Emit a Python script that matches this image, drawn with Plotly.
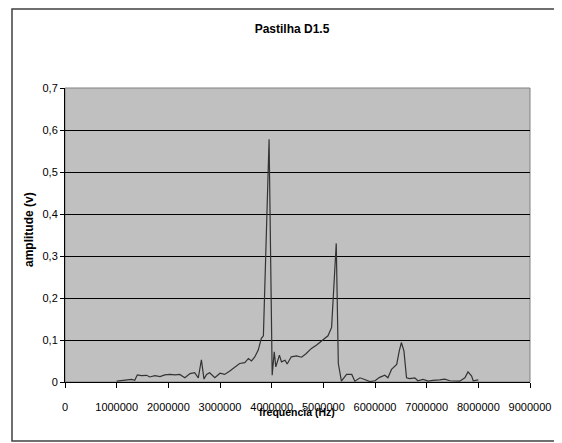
"""Pastilha D1.5 - amplitude spectrum, redrawn with plotly"""

import plotly.graph_objects as go

# frequency (Hz) and amplitude (V)
freq = [1.0e6, 1.1e6, 1.19e6, 1.29e6, 1.35e6, 1.4e6, 1.48e6, 1.58e6, 1.64e6, 1.74e6,
        1.84e6, 1.93e6, 2.03e6, 2.13e6, 2.22e6, 2.32e6, 2.42e6, 2.51e6, 2.58e6, 2.64e6,
        2.69e6, 2.74e6, 2.8e6, 2.9e6, 3.0e6, 3.09e6, 3.19e6, 3.29e6, 3.38e6, 3.48e6,
        3.55e6, 3.61e6, 3.67e6, 3.74e6, 3.8e6, 3.84e6, 3.95e6, 4.01e6, 4.05e6, 4.08e6,
        4.15e6, 4.19e6, 4.26e6, 4.3e6, 4.38e6, 4.48e6, 4.58e6, 4.67e6, 4.77e6, 4.87e6,
        5.0e6, 5.09e6, 5.16e6, 5.25e6, 5.29e6, 5.35e6, 5.45e6, 5.55e6, 5.61e6, 5.71e6,
        5.8e6, 5.9e6, 6.0e6, 6.09e6, 6.19e6, 6.25e6, 6.32e6, 6.42e6, 6.47e6, 6.51e6,
        6.56e6, 6.61e6, 6.67e6, 6.77e6, 6.83e6, 6.93e6, 7.03e6, 7.12e6, 7.25e6, 7.35e6,
        7.45e6, 7.54e6, 7.64e6, 7.74e6, 7.8e6, 7.87e6, 7.9e6, 8.0e6]
amp = [0.002, 0.003, 0.004, 0.006, 0.004, 0.017, 0.015, 0.016, 0.012, 0.015,
       0.013, 0.017, 0.018, 0.017, 0.018, 0.010, 0.020, 0.022, 0.010, 0.053,
       0.007, 0.018, 0.022, 0.010, 0.021, 0.018, 0.026, 0.035, 0.044, 0.046,
       0.056, 0.050, 0.059, 0.076, 0.104, 0.110, 0.578, 0.016, 0.072, 0.036,
       0.064, 0.048, 0.052, 0.043, 0.060, 0.062, 0.059, 0.068, 0.080, 0.088,
       0.100, 0.110, 0.130, 0.330, 0.044, 0.002, 0.018, 0.018, 0.002, 0.010,
       0.006, 0.001, 0.003, 0.011, 0.016, 0.010, 0.030, 0.042, 0.074, 0.094,
       0.074, 0.010, 0.008, 0.010, 0.003, 0.006, 0.002, 0.004, 0.005, 0.007,
       0.003, 0.002, 0.002, 0.010, 0.024, 0.014, 0.003, 0.005]

sans = "Liberation Sans, Arial, sans-serif"

# the page body adds an 8px margin, so the figure is 8px smaller and
# everything below is measured from (8, 8) of the screenshot
OFF = 8
W, H = 562 - OFF, 443 - OFF
L, R, T, B = 65 - OFF, 562 - 530, 88 - OFF, 443 - 382
PW, PH = W - L - R, H - T - B


def px(x):
    return (x - 65) / PW


def py(y):
    return (382 - y) / PH


fig = go.Figure()
fig.add_trace(go.Scatter(x=freq, y=amp, mode="lines",
                         line=dict(color="#333333", width=1.2),
                         showlegend=False))

fig.update_layout(
    width=W, height=H,
    margin=dict(l=L, r=R, t=T, b=B),
    paper_bgcolor="white",
    plot_bgcolor="#c0c0c0",
    separators=",.",
    font=dict(family=sans, size=11, color="black"),
    title=dict(text="<b>Pastilha D1.5</b>", font=dict(family=sans, size=12),
               x=(292 - OFF) / W, xanchor="center",
               y=1 - (29 - OFF) / H, yanchor="middle"),
    xaxis=dict(range=[0, 9000000], dtick=1000000, tickformat="d",
               showgrid=False, zeroline=False, showline=True, linecolor="black",
               linewidth=1, ticks="outside", ticklen=5, tickcolor="black",
               tickangle=0, ticklabelstandoff=10),
    yaxis=dict(range=[0, 0.7], dtick=0.1, showgrid=True, gridcolor="black",
               gridwidth=1, zeroline=False, showline=True, linecolor="black",
               linewidth=1, ticks="outside", ticklen=4, tickcolor="black"),
    shapes=[
        # grey plot-area border
        dict(type="rect", xref="paper", yref="paper", x0=0, x1=1, y0=0, y1=1,
             line=dict(color="#808080", width=1), layer="below"),
        # outer chart frame
        dict(type="rect", xref="paper", yref="paper",
             x0=px(12), x1=px(558), y0=py(441), y1=py(9),
             line=dict(color="#404040", width=1.5)),
    ],
    annotations=[
        dict(text="<b>amplitude (v)</b>", textangle=-90, showarrow=False,
             xref="paper", yref="paper", x=px(29), y=py(230),
             xanchor="center", yanchor="middle",
             font=dict(family=sans, size=12)),
        dict(text="<b>frequencia (Hz)</b>", showarrow=False,
             xref="paper", yref="paper", x=px(297), y=py(412),
             xanchor="center", yanchor="middle",
             font=dict(family=sans, size=10.5)),
    ],
)

fig.write_html("out.html")
